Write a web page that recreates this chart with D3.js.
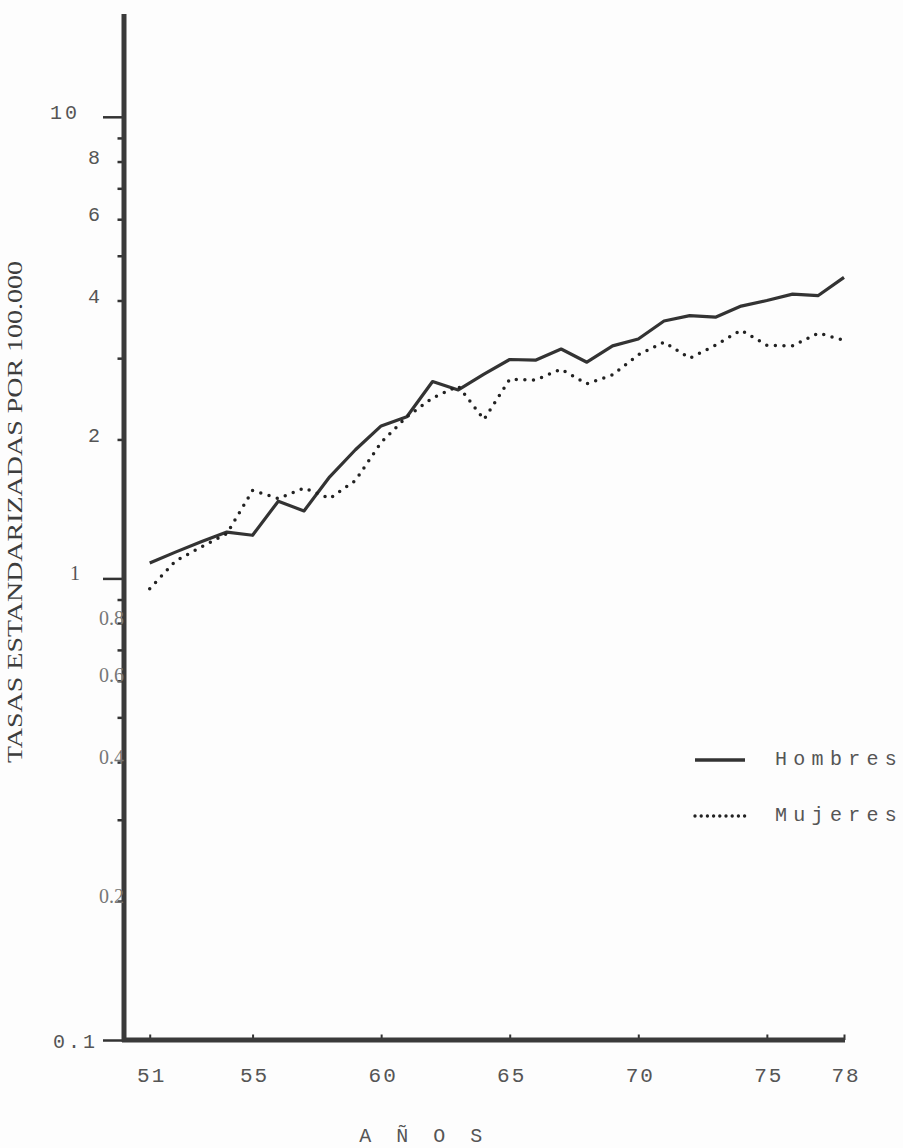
<!DOCTYPE html>
<html>
<head>
<meta charset="utf-8">
<script src="https://cdn.jsdelivr.net/npm/d3@7/dist/d3.min.js"></script>
<style>
  html, body { margin: 0; padding: 0; background: #fdfdfd; }
  svg { display: block; }
</style>
</head>
<body>
<svg id="chart" width="903" height="1148"></svg>
<script>
// ---- data ----
const years = [51,52,53,54,55,56,57,58,59,60,61,62,63,64,65,66,67,68,69,70,71,72,73,74,75,76,77,78];
const hombres = [1.08,1.14,1.20,1.26,1.24,1.47,1.40,1.66,1.90,2.14,2.24,2.67,2.56,2.77,2.98,2.97,3.14,2.94,3.19,3.30,3.61,3.71,3.68,3.89,4.00,4.13,4.10,4.49];
const mujeres = [0.95,1.09,1.17,1.25,1.55,1.49,1.57,1.49,1.63,1.97,2.24,2.46,2.61,2.21,2.70,2.69,2.84,2.64,2.76,3.05,3.25,3.00,3.20,3.45,3.20,3.19,3.40,3.28];
const seriesNames = ["Hombres", "Mujeres"];
const xTickValues = [51,55,60,65,70,75,78];
const yMajorTicks = [0.1, 1, 10];
const yMinorTicks = [0.2,0.3,0.4,0.5,0.6,0.7,0.8,0.9,2,3,4,5,6,7,8,9];
const yLabelValues = [10,8,6,4,2,1,0.8,0.6,0.4,0.2,0.1];
const yLabelTexts = ["10","8","6","4","2","1","0.8","0.6","0.4","0.2","0.1"];
const xTitle = "A Ñ O S";
const yTitle = "TASAS ESTANDARIZADAS POR 100.000";

// ---- drawing ----
const svg = d3.select("#chart");
const ink = "#333";
const txt = "#555";

const x = d3.scaleLinear().domain([50, 78]).range([124, 844]);
const y = d3.scaleLog().domain([0.1, 16.7]).range([1040, 14]);

// series lines
const line = d3.line().x((d, i) => x(years[i])).y(d => y(d));
svg.append("path").datum(hombres)
  .attr("d", line).attr("fill", "none")
  .attr("stroke", ink).attr("stroke-width", 3.2).attr("stroke-linejoin", "round");
svg.append("path").datum(mujeres)
  .attr("d", line).attr("fill", "none")
  .attr("stroke", "#222").attr("stroke-width", 3.5)
  .attr("stroke-linecap", "round").attr("stroke-dasharray", "0 8.6");

// y axis (minor + major ticks)
const gy = svg.append("g").attr("transform", "translate(124,0)");
gy.call(d3.axisLeft(y).tickValues(yMinorTicks).tickSize(6.5).tickFormat(""));
gy.append("g").call(d3.axisLeft(y).tickValues(yMajorTicks).tickSize(21).tickFormat(""));
gy.selectAll(".domain").remove();
gy.selectAll("line").attr("stroke", ink).attr("stroke-width", 2.5);

// x axis ticks (small, upward)
const gx = svg.append("g").attr("transform", "translate(0,1040)");
gx.call(d3.axisBottom(x).tickValues(xTickValues).tickSize(-5.5).tickFormat(""));
gx.selectAll(".domain").remove();
gx.selectAll("line").attr("stroke", ink).attr("stroke-width", 2);

// axis lines
svg.append("line").attr("x1", 124).attr("x2", 124).attr("y1", 14).attr("y2", 1042)
  .attr("stroke", "#3a3a3a").attr("stroke-width", 5);
svg.append("line").attr("x1", 122).attr("x2", x(78) + 1).attr("y1", y(0.1)).attr("y2", y(0.1))
  .attr("stroke", "#3a3a3a").attr("stroke-width", 5);

// y tick labels
yLabelValues.forEach((v, i) => {
  let endX, font, size;
  if (v === 10 || v === 1) { endX = 80; }
  else if (v >= 2) { endX = 100; }
  else if (v === 0.1) { endX = 98; }
  else { endX = 124; }
  if (v === 0.1 || v >= 2) { font = "'Liberation Mono', monospace"; size = 20; }
  else { font = "'Liberation Serif', serif"; size = 20; }
  svg.append("text")
    .attr("x", endX).attr("y", y(v) + (v === 0.1 ? 3 : -3))
    .attr("text-anchor", "end").attr("dominant-baseline", "middle")
    .attr("font-family", font).attr("font-size", size)
    .attr("letter-spacing", (v === 0.1 || v === 10) ? 3 : 0)
    .attr("fill", (v < 1 && v > 0.1) ? "#777" : txt).text(yLabelTexts[i]);
});

// x tick labels
svg.selectAll(".xlab").data(xTickValues).enter().append("text")
  .attr("x", d => x(d) + 2).attr("y", 1082)
  .attr("text-anchor", "middle")
  .attr("font-family", "'Liberation Mono', monospace").attr("font-size", 21)
  .attr("letter-spacing", 2)
  .attr("fill", txt).text(d => d);

// x title
svg.append("text").attr("x", 424).attr("y", 1142).attr("text-anchor", "middle")
  .attr("font-family", "'Liberation Mono', monospace").attr("font-size", 20)
  .attr("fill", txt).attr("letter-spacing", 6.5).text(xTitle);

// y title
svg.append("text")
  .attr("transform", "translate(22,512) rotate(-90)")
  .attr("text-anchor", "middle")
  .attr("font-family", "'Liberation Serif', 'Times New Roman', serif").attr("font-size", 21)
  .attr("textLength", 502).attr("lengthAdjust", "spacingAndGlyphs")
  .attr("fill", "#3d3d3d").text(yTitle);

// legend
const legY = [760, 816];
seriesNames.forEach((name, i) => {
  const l = svg.append("line").attr("x1", 695).attr("x2", 745)
    .attr("y1", legY[i]).attr("y2", legY[i]);
  if (i === 0) {
    l.attr("stroke", ink).attr("stroke-width", 3.4);
  } else {
    l.attr("stroke", "#222").attr("stroke-width", 3.4)
     .attr("stroke-linecap", "round").attr("stroke-dasharray", "0 6.2");
  }
  svg.append("text").attr("x", 775).attr("y", legY[i]).attr("dominant-baseline", "middle")
    .attr("font-family", "'Liberation Mono', monospace").attr("font-size", 20)
    .attr("letter-spacing", 6.3).attr("fill", txt).text(name);
});
</script>
</body>
</html>
